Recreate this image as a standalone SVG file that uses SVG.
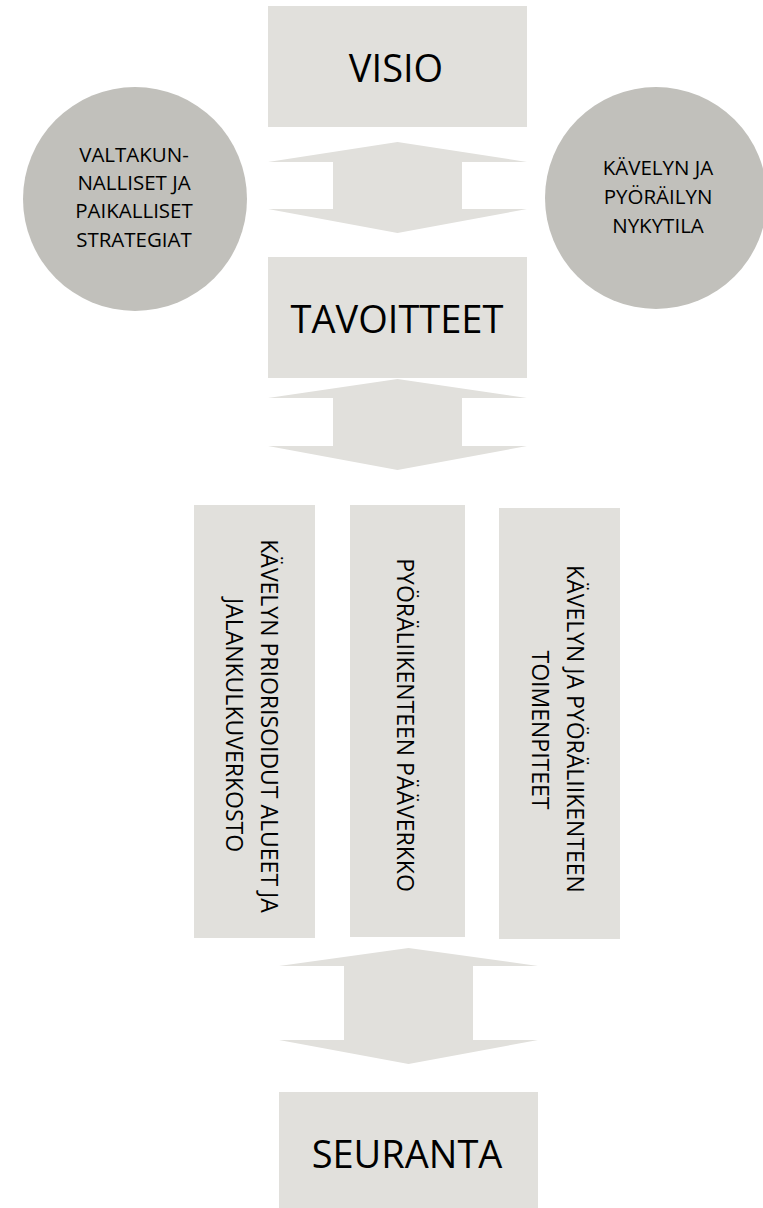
<svg xmlns="http://www.w3.org/2000/svg" width="763" height="1208" viewBox="0 0 763 1208">
  <style>
    .box { fill: #e1e0dc; }
    .circ { fill: #c1c0bb; }
    .arr { fill: #e1e0dc; }
    text { font-family: "Open Sans", "Liberation Sans", sans-serif; fill: #000; text-anchor: middle; }
    .big { font-size: 38px; }
    .small { font-size: 20.5px; }
    .vert { font-size: 23px; }
  </style>
  <rect width="763" height="1208" fill="#ffffff"/>
  <g id="connectors">
    <polygon class="arr" points="397.5,142 527,162 462,162 462,209 527,209 397.5,233 268,209 333,209 333,162 268,162"/>
    <polygon class="arr" points="397.5,379 527,398 462,398 462,446 527,446 397.5,470 268,446 333,446 333,398 268,398"/>
    <polygon class="arr" points="408.5,948 538,966 473,966 473,1040 538,1040 408.5,1064 279,1040 344,1040 344,966 279,966"/>
  </g>
  <g id="visio">
    <rect class="box" x="268" y="6" width="259" height="121"/>
    <text class="big" x="396" y="82" font-size="40">VISIO</text>
  </g>
  <g id="strategiat">
    <circle class="circ" cx="135" cy="199" r="112"/>
    <text class="small" x="134" y="162">VALTAKUN-</text>
    <text class="small" x="134" y="190">NALLISET JA</text>
    <text class="small" x="134" y="218">PAIKALLISET</text>
    <text class="small" x="134" y="247">STRATEGIAT</text>
  </g>
  <g id="nykytila">
    <circle class="circ" cx="656" cy="198" r="111"/>
    <text class="small" x="658" y="175">KÄVELYN JA</text>
    <text class="small" x="658" y="204">PYÖRÄILYN</text>
    <text class="small" x="658" y="233">NYKYTILA</text>
  </g>
  <g id="tavoitteet">
    <rect class="box" x="268" y="257" width="259" height="121"/>
    <text class="big" x="397" y="333" font-size="35.5">TAVOITTEET</text>
  </g>
  <g id="jalankulku">
    <rect class="box" x="194" y="505" width="121" height="433"/>
    <text class="vert" transform="translate(261,726) rotate(90)">KÄVELYN PRIORISOIDUT ALUEET JA</text>
    <text class="vert" transform="translate(226,725) rotate(90)">JALANKULKUVERKOSTO</text>
  </g>
  <g id="paaverkko">
    <rect class="box" x="350" y="505" width="115" height="432"/>
    <text class="vert" transform="translate(397,725) rotate(90)">PYÖRÄLIIKENTEEN PÄÄVERKKO</text>
  </g>
  <g id="toimenpiteet">
    <rect class="box" x="499" y="508" width="121" height="431"/>
    <text class="vert" transform="translate(567,729) rotate(90)">KÄVELYN JA PYÖRÄLIIKENTEEN</text>
    <text class="vert" transform="translate(532,730) rotate(90)">TOIMENPITEET</text>
  </g>
  <g id="seuranta">
    <rect class="box" x="279" y="1092" width="259" height="116"/>
    <text class="big" x="407" y="1168" font-size="40.5">SEURANTA</text>
  </g>
</svg>
